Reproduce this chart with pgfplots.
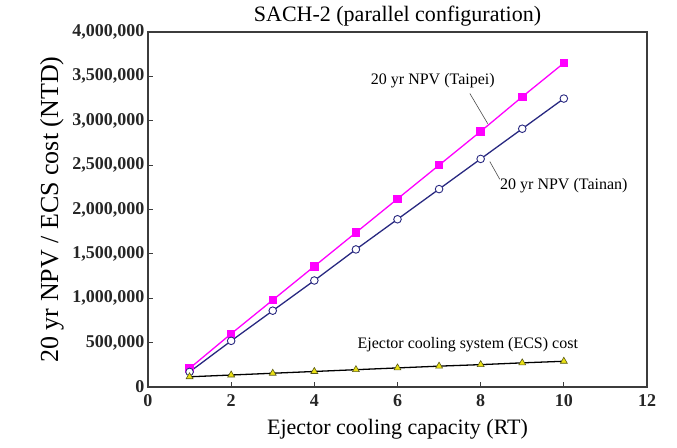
\documentclass[border=0pt]{standalone}
\usepackage{fontspec}
\setmainfont{Liberation Serif}
\usepackage{pgfplots}
\pgfplotsset{compat=1.18}
\usetikzlibrary{calc}

\definecolor{taipei}{RGB}{255,0,255}
\definecolor{tainan}{RGB}{40,40,128}
\definecolor{ecsfill}{RGB}{235,225,20}
\definecolor{ecsedge}{RGB}{90,90,20}
\definecolor{frame}{RGB}{60,60,60}

\begin{document}
\begin{tikzpicture}
\begin{axis}[
  scale only axis,
  width=499bp, height=355bp,
  xmin=0, xmax=12, ymin=0, ymax=4000000,
  xtick={0,2,...,12},
  ytick={0,500000,...,4000000},
  scaled y ticks=false,
  /pgf/number format/.cd, fixed, 1000 sep={,}, assume math mode=true,
  /pgfplots/.cd,
  tick pos=left, tick align=inside,
  major tick length=5bp,
  axis line style={frame, line width=1.1pt},
  tick style={frame, line width=0.9pt},
  ticklabel style={font=\fontsize{18bp}{20bp}\selectfont\bfseries, text=black!85},
  xticklabel style={yshift=-4bp},
  title={SACH-2 (parallel configuration)},
  title style={font=\fontsize{22bp}{24bp}\selectfont, yshift=-4bp},
  xlabel={Ejector cooling capacity (RT)},
  xlabel style={font=\fontsize{22bp}{24bp}\selectfont, yshift=-6bp},
  ylabel={20 yr NPV / ECS cost (NTD)},
  ylabel style={font=\fontsize{26bp}{28bp}\selectfont, yshift=2bp},
  clip=false,
]
% 20 yr NPV, Taipei
\addplot[taipei, line width=1.3pt, mark=square*, mark size=3.6bp,
  mark options={fill=taipei, draw=taipei}] coordinates {
  (1,210000) (2,600000) (3,980000) (4,1360000) (5,1740000)
  (6,2120000) (7,2500000) (8,2880000) (9,3270000) (10,3650000)};
% 20 yr NPV, Tainan
\addplot[tainan, line width=1.3pt, mark=*, mark size=3.8bp,
  mark options={fill=white, draw=tainan, line width=0.9pt}] coordinates {
  (1,170000) (2,520000) (3,860000) (4,1200000) (5,1550000)
  (6,1890000) (7,2230000) (8,2570000) (9,2910000) (10,3250000)};
% ECS cost
\addplot[black, line width=1.3pt, mark=triangle*, mark size=4bp,
  mark options={fill=ecsfill, draw=ecsedge, line width=0.6pt}] coordinates {
  (1,115000) (2,135000) (3,155000) (4,175000) (5,195000)
  (6,215000) (7,235000) (8,252000) (9,272000) (10,290000)};

% annotations with leader lines
\node[font=\fontsize{16bp}{18bp}\selectfont] at (axis cs:6.85,3455000) {20 yr NPV (Taipei)};
\draw[black!70, line width=0.6pt] (axis cs:7.74,3307000) -- (axis cs:8.17,2967000);
\node[font=\fontsize{16bp}{18bp}\selectfont] at (axis cs:10.0,2265000) {20 yr NPV (Tainan)};
\draw[black!70, line width=0.6pt] (axis cs:8.22,2540000) -- (axis cs:8.46,2340000);
\node[font=\fontsize{16bp}{18bp}\selectfont] at (axis cs:7.69,476000) {Ejector cooling system (ECS) cost};
\end{axis}
\pgfresetboundingbox
\path ($(current axis.south west)+(-148bp,-61bp)$) rectangle ($(current axis.north east)+(30bp,32bp)$);
\end{tikzpicture}
\end{document}
